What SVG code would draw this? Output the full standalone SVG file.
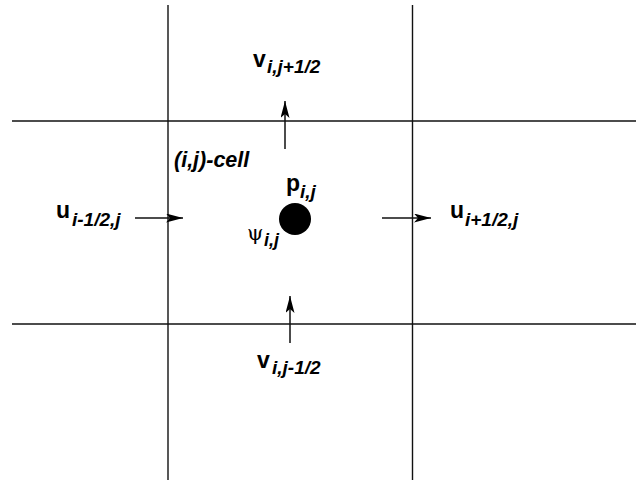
<svg xmlns="http://www.w3.org/2000/svg" width="637" height="489" viewBox="0 0 637 489">
<style>
.grid{stroke:#111;stroke-width:1.4;fill:none}
.arr{stroke:#111;stroke-width:1.5;fill:none;marker-end:url(#ah)}
.main{font-family:"Liberation Sans",Arial,sans-serif;font-weight:bold;font-size:23px;fill:#000}
.sub{font-family:"Liberation Sans",Arial,sans-serif;font-weight:bold;font-style:italic;font-size:19px;fill:#000}
.lbl{font-family:"Liberation Sans",Arial,sans-serif;font-weight:bold;font-style:italic;font-size:21.5px;fill:#000}
.psi{font-family:"DejaVu Serif","Liberation Serif",serif;font-size:21px;fill:#000}
</style>
<defs>
<marker id="ah" markerWidth="18" markerHeight="10" refX="17" refY="4.5" orient="auto" markerUnits="userSpaceOnUse">
<path d="M0,0 L17,4.5 L0,9 L4,4.5 Z" fill="#000"/>
</marker>
</defs>
<g id="grid">
<line class="grid" x1="168" y1="5" x2="168" y2="480"/>
<line class="grid" x1="412.5" y1="5" x2="412.5" y2="480"/>
<line class="grid" x1="12" y1="121" x2="636" y2="121"/>
<line class="grid" x1="12" y1="324" x2="636" y2="324"/>
</g>
<g id="connectors">
<line class="arr" x1="285" y1="149" x2="285" y2="101"/>
<line class="arr" x1="290" y1="343" x2="290" y2="296"/>
<line class="arr" x1="135" y1="218" x2="183" y2="218"/>
<line class="arr" x1="382" y1="218" x2="431" y2="218"/>
</g>
<g id="cell-label"><text class="lbl" x="174" y="167">(i,j)-cell</text></g>
<g id="p-node">
<circle cx="295" cy="219" r="16" fill="#000"/>
<text class="main" x="286" y="191">p</text><text class="sub" x="300" y="198">i,j</text>
<text class="psi" x="247" y="240">ψ</text><text class="sub" x="264" y="246" style="font-size:18px">i,j</text>
</g>
<g id="v-top"><text class="main" x="253" y="67">v</text><text class="sub" x="267" y="73">i,j+1/2</text></g>
<g id="v-bottom"><text class="main" x="257" y="368">v</text><text class="sub" x="272" y="374">i,j-1/2</text></g>
<g id="u-left"><text class="main" x="56" y="218">u</text><text class="sub" x="72" y="226">i-1/2,j</text></g>
<g id="u-right"><text class="main" x="450" y="218">u</text><text class="sub" x="465" y="226">i+1/2,j</text></g>
</svg>
